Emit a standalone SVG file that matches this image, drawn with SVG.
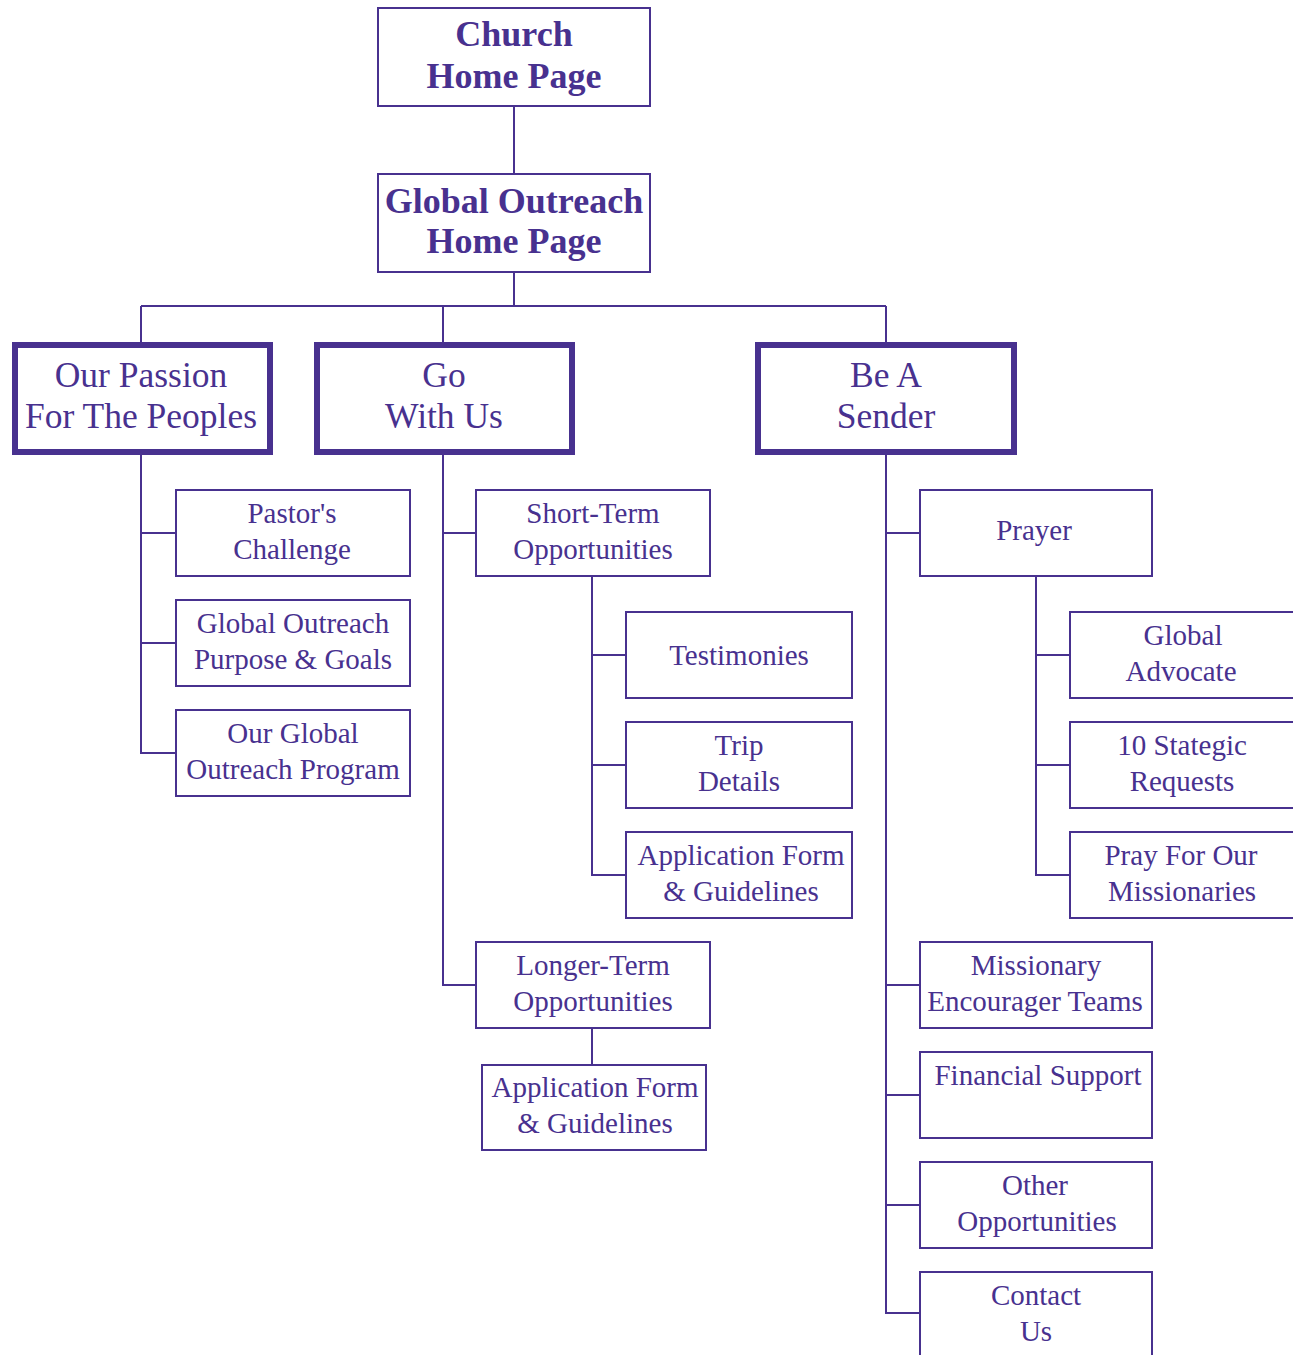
<svg xmlns="http://www.w3.org/2000/svg" width="1293" height="1355" viewBox="0 0 1293 1355">
<style>
rect{fill:#fff;stroke:#48318F;stroke-width:2}
rect.thick{stroke-width:6}
.c path{fill:none;stroke:#48318F;stroke-width:2}
text{font-family:'Liberation Serif','Times New Roman',Tinos,'DejaVu Serif',serif;fill:#48318F;text-anchor:middle;font-size:29px}
text.b{font-weight:bold;font-size:36px}
text.m{font-size:35.5px}
</style>
<rect x="0" y="0" width="1293" height="1355" style="fill:#fff;stroke:none"/>
<g class="c">
<path d="M514 106V174M514 272V306M141 306H886M141 306V345M443 306V345M886 306V345"/>
<path d="M141 452V753H176M141 533H176M141 643H176"/>
<path d="M443 452V985H476M443 533H476"/>
<path d="M592 576V875H626M592 655H626M592 765H626"/>
<path d="M592 1028V1065"/>
<path d="M886 452V1313H920M886 533H920M886 985H920M886 1095H920M886 1205H920"/>
<path d="M1036 576V875H1070M1036 655H1070M1036 765H1070"/>
</g>
<g id="church"><rect x="378" y="8" width="272" height="98"/><text class="b" x="514" y="46">Church</text><text class="b" x="514" y="88">Home Page</text></g>
<g id="global"><rect x="378" y="174" width="272" height="98"/><text class="b" x="514" y="213">Global Outreach</text><text class="b" x="514" y="253">Home Page</text></g>
<g id="passion"><rect class="thick" x="15" y="345" width="255" height="107"/><text class="m" x="141" y="387">Our Passion</text><text class="m" x="141" y="428">For The Peoples</text></g>
<g id="go"><rect class="thick" x="317" y="345" width="255" height="107"/><text class="m" x="444" y="387">Go</text><text class="m" x="444" y="428">With Us</text></g>
<g id="sender"><rect class="thick" x="758" y="345" width="256" height="107"/><text class="m" x="886" y="387">Be A</text><text class="m" x="886" y="428">Sender</text></g>
<g id="pastor"><rect x="176" y="490" width="234" height="86"/><text x="292" y="523">Pastor's</text><text x="292" y="559">Challenge</text></g>
<g id="purpose"><rect x="176" y="600" width="234" height="86"/><text x="293" y="633">Global Outreach</text><text x="293" y="669">Purpose &amp; Goals</text></g>
<g id="program"><rect x="176" y="710" width="234" height="86"/><text x="293" y="743">Our Global</text><text x="293" y="779">Outreach Program</text></g>
<g id="shortterm"><rect x="476" y="490" width="234" height="86"/><text x="593" y="523">Short-Term</text><text x="593" y="559">Opportunities</text></g>
<g id="testimonies"><rect x="626" y="612" width="226" height="86"/><text x="739" y="665">Testimonies</text></g>
<g id="trip"><rect x="626" y="722" width="226" height="86"/><text x="739" y="755">Trip</text><text x="739" y="791">Details</text></g>
<g id="app1"><rect x="626" y="832" width="226" height="86"/><text x="741" y="865">Application Form</text><text x="741" y="901">&amp; Guidelines</text></g>
<g id="longerterm"><rect x="476" y="942" width="234" height="86"/><text x="593" y="975">Longer-Term</text><text x="593" y="1011">Opportunities</text></g>
<g id="app2"><rect x="482" y="1065" width="224" height="85"/><text x="595" y="1097">Application Form</text><text x="595" y="1133">&amp; Guidelines</text></g>
<g id="prayer"><rect x="920" y="490" width="232" height="86"/><text x="1034" y="540">Prayer</text></g>
<g id="advocate"><rect x="1070" y="612" width="226" height="86"/><text x="1183" y="645">Global</text><text x="1181" y="681">Advocate</text></g>
<g id="requests"><rect x="1070" y="722" width="226" height="86"/><text x="1182" y="755">10 Stategic</text><text x="1182" y="791">Requests</text></g>
<g id="missionaries"><rect x="1070" y="832" width="226" height="86"/><text x="1181" y="865">Pray For Our</text><text x="1182" y="901">Missionaries</text></g>
<g id="encourager"><rect x="920" y="942" width="232" height="86"/><text x="1036" y="975">Missionary</text><text x="1035" y="1011">Encourager Teams</text></g>
<g id="financial"><rect x="920" y="1052" width="232" height="86"/><text x="1038" y="1085">Financial Support</text></g>
<g id="other"><rect x="920" y="1162" width="232" height="86"/><text x="1035" y="1195">Other</text><text x="1037" y="1231">Opportunities</text></g>
<g id="contact"><rect x="920" y="1272" width="232" height="100"/><text x="1036" y="1305">Contact</text><text x="1036" y="1341">Us</text></g>
</svg>
